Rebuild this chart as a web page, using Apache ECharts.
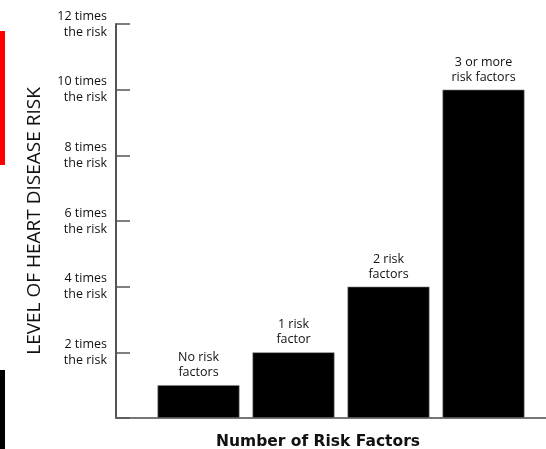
<!DOCTYPE html>
<html>
<head>
<meta charset="utf-8">
<script src="https://cdn.jsdelivr.net/npm/echarts@6/dist/echarts.min.js"></script>
<style>
  html, body { margin: 0; padding: 0; background: #fff; }
  #chart { width: 546px; height: 449px; }
</style>
</head>
<body>
<div id="chart"></div>
<script>
// Relative heart-disease risk by number of risk factors
const categories = ['No risk\nfactors', '1 risk\nfactor', '2 risk\nfactors', '3 or more\nrisk factors'];
const riskValues = [1, 2, 4, 10];
const tickValues = [2, 4, 6, 8, 10, 12];
const tickLabels = ['2 times\nthe risk', '4 times\nthe risk', '6 times\nthe risk',
                    '8 times\nthe risk', '10 times\nthe risk', '12 times\nthe risk'];

const FONT = '"Open Sans", Lato, sans-serif';
const chart = echarts.init(document.getElementById('chart'), null, { renderer: 'canvas' });

chart.setOption({
  backgroundColor: '#ffffff',
  animation: false,
  title: {
    text: 'Number of Risk Factors',
    left: 313,
    top: 429,
    textAlign: 'center',
    textStyle: { fontFamily: '"DejaVu Sans", sans-serif', fontSize: 15.5, fontWeight: 'bold', color: '#111' }
  },
  grid: [
    // frame with the axes
    { left: 116, right: 0, top: 24, bottom: 31 },
    // plotting area for the bars
    { left: 151, width: 380, top: 24, bottom: 31 }
  ],
  xAxis: [
    {
      gridIndex: 0, type: 'category', data: [''],
      axisLine: { show: true, lineStyle: { color: '#777', width: 2 } },
      axisTick: { show: false }, axisLabel: { show: false }, splitLine: { show: false }
    },
    {
      gridIndex: 1, type: 'category', data: categories,
      axisLine: { show: false }, axisTick: { show: false }, axisLabel: { show: false }
    }
  ],
  yAxis: [
    {
      gridIndex: 0, type: 'value', min: 0, max: 12, interval: 2,
      name: 'LEVEL OF HEART DISEASE RISK',
      nameLocation: 'middle',
      nameGap: 72,
      nameRotate: 90,
      nameTextStyle: { fontFamily: FONT, fontSize: 19, color: '#111' },
      axisLine: { show: true, lineStyle: { color: '#555', width: 2 } },
      axisTick: { show: true, inside: true, length: 14, lineStyle: { color: '#555', width: 1.5 } },
      axisLabel: {
        margin: 9,
        fontFamily: FONT, fontSize: 12.5, lineHeight: 16, color: '#111', align: 'right',
        formatter: v => {
          const i = tickValues.indexOf(v);
          return i >= 0 ? tickLabels[i] : '';
        }
      },
      splitLine: { show: false }
    },
    {
      gridIndex: 1, type: 'value', min: 0, max: 12,
      show: false
    }
  ],
  series: [
    {
      type: 'bar',
      xAxisIndex: 1, yAxisIndex: 1,
      data: riskValues,
      barWidth: 82,
      itemStyle: { color: '#000', borderColor: '#888', borderWidth: 0.6 },
      label: {
        show: true, position: 'top', distance: 5,
        fontFamily: FONT, fontSize: 12.5, lineHeight: 15, color: '#111',
        formatter: p => categories[p.dataIndex]
      }
    }
  ],
  graphic: [
    { type: 'rect', shape: { x: 0, y: 31, width: 5, height: 134 }, style: { fill: '#ff0000' } },
    { type: 'rect', shape: { x: 0, y: 370, width: 5, height: 79 }, style: { fill: '#000000' } }
  ]
});
</script>
</body>
</html>
